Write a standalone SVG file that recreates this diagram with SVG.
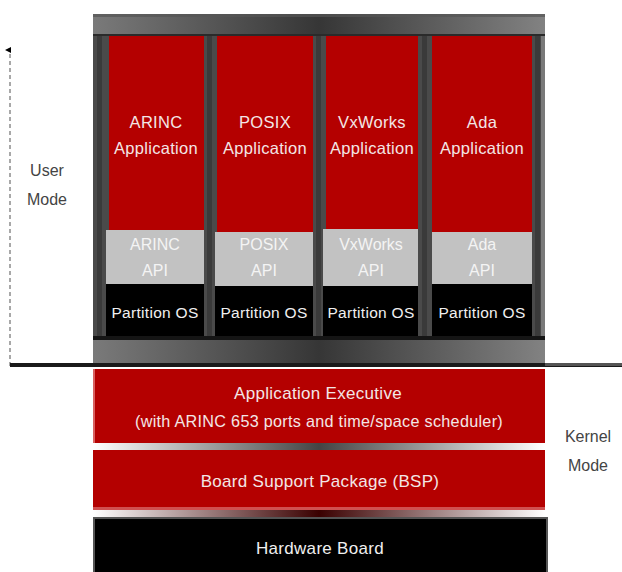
<svg xmlns="http://www.w3.org/2000/svg" width="622" height="572" viewBox="0 0 622 572">
<defs>
<linearGradient id="bar" x1="0" y1="0" x2="1" y2="0">
<stop offset="0" stop-color="#7a7a7a"/>
<stop offset="0.5" stop-color="#363636"/>
<stop offset="1" stop-color="#828282"/>
</linearGradient>
<linearGradient id="sep" x1="0" y1="0" x2="1" y2="0">
<stop offset="0" stop-color="#ffffff"/>
<stop offset="0.5" stop-color="#444444"/>
<stop offset="1" stop-color="#ffffff"/>
</linearGradient>
<linearGradient id="sep2" x1="0" y1="0" x2="1" y2="0">
<stop offset="0" stop-color="#ffffff"/>
<stop offset="0.5" stop-color="#3a0000"/>
<stop offset="1" stop-color="#ffffff"/>
</linearGradient>
<marker id="ah" markerWidth="6" markerHeight="6" refX="3" refY="5" orient="auto" markerUnits="userSpaceOnUse">
<path d="M0,6 L3,0 L6,6 Z" fill="#000"/>
</marker>
</defs>
<style>
text{font-family:"Liberation Sans",Arial,sans-serif;text-anchor:middle}
.app{fill:#b40000}
.api{fill:#c2c2c2}
.pos{fill:#000}
.t{fill:#f3e6e6;font-size:16.5px;letter-spacing:0.3px}
.ta{fill:#f4f4f4;font-size:16px}
.tp{fill:#f0f0f0;font-size:15.5px;letter-spacing:0.3px}
.mode{fill:#444;font-size:16px}
</style>
<rect width="622" height="572" fill="#fff"/>

<g id="axis">
<line x1="10" y1="366" x2="10" y2="50" stroke="#a8a8a8" stroke-width="2" stroke-dasharray="4,3" marker-end="url(#ah)"/>
<text class="mode" x="47" y="176">User</text>
<text class="mode" x="47" y="205">Mode</text>
<text class="mode" x="588" y="442">Kernel</text>
<text class="mode" x="588" y="471">Mode</text>
</g>

<g id="frame">
<rect x="93" y="36" width="452" height="304" fill="#4a4a4a"/>
<rect x="97" y="36" width="5" height="304" fill="#3a3a3a"/>
<rect x="207" y="36" width="5" height="304" fill="#3a3a3a"/>
<rect x="316" y="36" width="5" height="304" fill="#3a3a3a"/>
<rect x="422" y="36" width="5" height="304" fill="#3a3a3a"/>
<rect x="535" y="36" width="5" height="304" fill="#3a3a3a"/>
<rect x="541" y="36" width="4" height="304" fill="#7a7a7a"/>
<rect x="93" y="14" width="452" height="22" fill="url(#bar)"/>
<rect x="93" y="14" width="452" height="3" fill="#555" opacity="0.7"/>
<rect x="93" y="34" width="452" height="2" fill="#2a2a2a"/>
<rect x="93" y="336" width="452" height="4" fill="#151515"/>
<rect x="93" y="340" width="452" height="23" fill="url(#bar)"/>
</g>

<g id="arinc">
<rect class="app" x="109" y="36" width="95" height="194"/>
<rect class="api" x="106" y="230" width="98" height="54"/>
<rect class="pos" x="106" y="284" width="98" height="52"/>
<text class="t" x="156" y="128">ARINC</text>
<text class="t" x="156" y="154">Application</text>
<text class="ta" x="155" y="250">ARINC</text>
<text class="ta" x="155" y="276">API</text>
<text class="tp" x="155" y="318">Partition OS</text>
</g>

<g id="posix">
<rect class="app" x="217" y="36" width="96" height="196"/>
<rect class="api" x="215" y="232" width="98" height="54"/>
<rect class="pos" x="215" y="286" width="98" height="50"/>
<text class="t" x="265" y="128">POSIX</text>
<text class="t" x="265" y="154">Application</text>
<text class="ta" x="264" y="250">POSIX</text>
<text class="ta" x="264" y="276">API</text>
<text class="tp" x="264" y="318">Partition OS</text>
</g>

<g id="vxworks">
<rect class="app" x="326" y="36" width="92" height="193"/>
<rect class="api" x="323" y="229" width="95" height="57"/>
<rect class="pos" x="323" y="286" width="95" height="50"/>
<text class="t" x="372" y="128">VxWorks</text>
<text class="t" x="372" y="154">Application</text>
<text class="ta" x="371" y="250">VxWorks</text>
<text class="ta" x="371" y="276">API</text>
<text class="tp" x="371" y="318">Partition OS</text>
</g>

<g id="ada">
<rect class="app" x="432" y="36" width="100" height="196"/>
<rect class="api" x="432" y="232" width="100" height="52"/>
<rect class="pos" x="432" y="284" width="100" height="52"/>
<text class="t" x="482" y="128">Ada</text>
<text class="t" x="482" y="154">Application</text>
<text class="ta" x="482" y="250">Ada</text>
<text class="ta" x="482" y="276">API</text>
<text class="tp" x="482" y="318">Partition OS</text>
</g>

<g id="connectors">
<rect x="10" y="363" width="612" height="4" fill="#1a1a1a"/>
<rect x="545" y="363" width="77" height="3" fill="#555"/>
</g>

<g id="executive">
<rect class="app" x="93" y="369" width="452" height="74"/>
<rect x="93" y="369" width="2" height="74" fill="#d86060"/>
<text class="t" x="318" y="399" style="font-size:17px">Application Executive</text>
<text class="t" x="319" y="427" textLength="368" lengthAdjust="spacingAndGlyphs">(with ARINC 653 ports and time/space scheduler)</text>
</g>
<rect x="93" y="443" width="452" height="7" fill="url(#sep)"/>

<g id="bsp">
<rect class="app" x="93" y="450" width="452" height="60"/>
<rect x="93" y="507" width="452" height="3" fill="#d05050"/>
<text class="t" x="320" y="487" style="font-size:17px">Board Support Package (BSP)</text>
</g>
<rect x="93" y="510" width="452" height="7" fill="url(#sep2)"/>

<g id="hardware">
<rect x="94" y="518" width="453" height="56" fill="#000" stroke="#555" stroke-width="2"/>
<text class="tp" x="320" y="554" style="font-size:17px">Hardware Board</text>
</g>
</svg>
